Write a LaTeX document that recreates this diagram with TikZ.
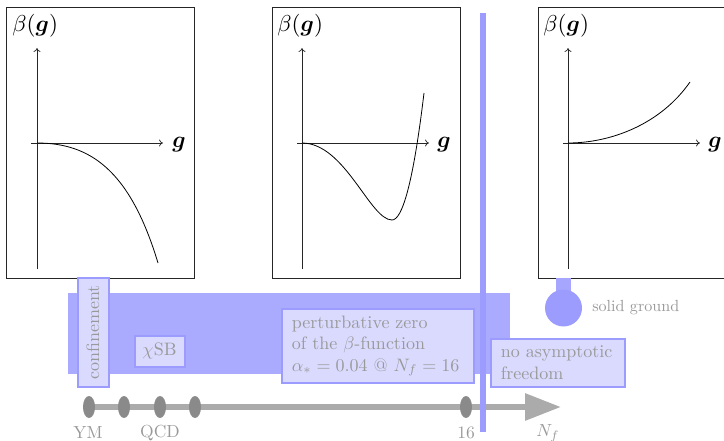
\documentclass[tikz,border=0pt]{standalone}
\usepackage{amsmath}
\usetikzlibrary{arrows.meta,shapes.geometric}
\definecolor{bigblue}{HTML}{AAAAFF}
\definecolor{barblue}{HTML}{9C9CFF}
\definecolor{tagfill}{HTML}{DADAFF}
\definecolor{tagline}{HTML}{9C9CFF}
\definecolor{txtgray}{HTML}{999999}
\definecolor{axisgray}{HTML}{ABABAB}
\definecolor{dotgray}{HTML}{8A8A8A}
\tikzset{
  plotbox/.style={draw=black!85, line width=0.9pt, minimum width=188pt, minimum height=271pt, inner sep=0pt},
  plotaxis/.style={line width=0.7pt, black!85, -{To[length=4pt,width=7pt]}},
  curve/.style={line width=0.8pt, black},
  betalbl/.style={anchor=north west, inner sep=0pt, scale=2.3},
  glbl/.style={anchor=west, inner sep=0pt, scale=2.3},
  tag/.style={draw=tagline, fill=tagfill, line width=2pt, text=txtgray, inner sep=0pt},
  tagtext/.style={text=txtgray, inner sep=0pt, scale=1.8, align=left},
  dot/.style={ellipse, fill=dotgray, minimum width=12pt, minimum height=22pt, inner sep=0pt},
  lbl/.style={text=txtgray, inner sep=0pt, scale=1.75}
}
\begin{document}
\begin{tikzpicture}[x=1pt,y=-1pt]
\useasboundingbox (0,0) rectangle (724,441);
\begin{scope}
\clip (0,0) rectangle (724,441);
% plot boxes
\node[plotbox] (p1) at (100.5,142.5) {};
\node[plotbox] (p2) at (366,142.5) {};
\node[plotbox] (p3) at (632,142.5) {};
\node[betalbl] (b1) at (12,14) {$\beta(\boldsymbol{g})$};
\node[betalbl] (b2) at (277,14) {$\beta(\boldsymbol{g})$};
\node[betalbl] (b3) at (543,14) {$\beta(\boldsymbol{g})$};
% axes plot 1
\coordinate (v1s) at (37,269); \coordinate (v1e) at (37,48);
\coordinate (h1s) at (31,143); \coordinate (h1e) at (163,143);
\draw[plotaxis] (v1s) -- (v1e);
\draw[plotaxis] (h1s) -- (h1e);
\node[glbl] (g1) at (172,145) {$\boldsymbol{g}$};
\draw[curve] (37,143) .. controls (90,143) and (130,170) .. (158,263);
% axes plot 2
\coordinate (v2s) at (302,269); \coordinate (v2e) at (302,48);
\coordinate (h2s) at (297,143); \coordinate (h2e) at (429,143);
\draw[plotaxis] (v2s) -- (v2e);
\draw[plotaxis] (h2s) -- (h2e);
\node[glbl] (g2) at (437,145) {$\boldsymbol{g}$};
\draw[curve] (302,143) .. controls (345,143) and (370,220) .. (392,220) .. controls (402,220) and (413,185) .. (424,93);
% axes plot 3
\coordinate (v3s) at (568,269); \coordinate (v3e) at (568,48);
\coordinate (h3s) at (563,143); \coordinate (h3e) at (700,143);
\draw[plotaxis] (v3s) -- (v3e);
\draw[plotaxis] (h3s) -- (h3e);
\node[glbl] (g3) at (708,145) {$\boldsymbol{g}$};
\draw[curve] (568,143) .. controls (610,143) and (660,125) .. (690,82);
\end{scope}
% big region
\fill[bigblue] (68,293) rectangle (510,374);
% Nf axis
\coordinate (c1) at (89,407);
\coordinate (tip) at (561,407);
\draw[axisgray, line width=6pt, -{Triangle[length=36pt,width=26pt]}] (c1) -- (tip);
\node[dot] (d1) at (c1) {};
\node[dot] (d2) at (124,407) {};
\node[dot] (d3) at (160,407) {};
\node[dot] (d4) at (195,407) {};
\node[dot] (d16) at (466,407) {};
\node[lbl] (ym) at (88,433) {YM};
\node[lbl] (qcd) at (160,433) {QCD};
\node[lbl] (n16) at (466,433) {16};
\node[lbl] (nf) at (548,433) {$N_f$};
% vertical bar
\fill[barblue] (480,13) rectangle (486,432);
% tags
\node[tag, minimum width=31pt, minimum height=108pt] (conf) at (93,332.5) {};
\node[tagtext, rotate=90] (conft) at (conf) {confinement};
\node[tag, minimum width=50pt, minimum height=31pt] (chisb) at (159.5,351) {};
\node[tagtext] (chisbt) at (chisb) {$\chi$SB};
\node[tag, minimum width=192pt, minimum height=73pt] (pert) at (377.5,346) {};
\node[tagtext, anchor=west] (pertt) at ([xshift=11pt]pert.west)
  {perturbative zero\\of the $\beta$-function\\$\alpha_*=0.04$ @ $N_f=16$};
\node[tag, minimum width=134pt, minimum height=48pt] (noaf) at (557.5,362.5) {};
\node[tagtext, anchor=west] (noaft) at ([xshift=11pt]noaf.west) {no asymptotic\\freedom};
% solid ground
\fill[barblue!90] (556,278) rectangle (571,296);
\fill[barblue] (563.5,308) circle (18.5pt);
\node[lbl, anchor=west, scale=0.92] (sg) at (592,308) {solid ground};
\end{tikzpicture}
\end{document}
